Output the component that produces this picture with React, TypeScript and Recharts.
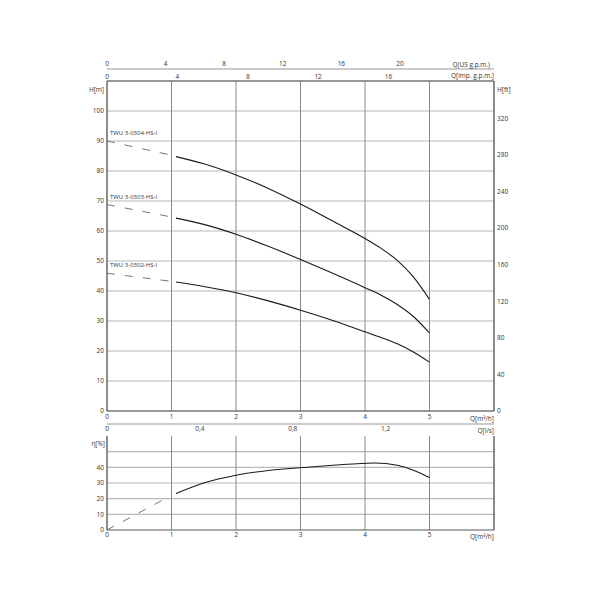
import React from 'react';
import { LineChart, Line, XAxis, YAxis, CartesianGrid, LabelList } from 'recharts';

// unit conversions (from m3/h and m)
const M3H_TO_USGPM = 4.403;
const M3H_TO_IMPGPM = 3.666;
const M3H_TO_LS = 1 / 3.6;
const M_TO_FT = 3.2808;

const flowTicks = [0, 1, 2, 3, 4, 5];
const usGpmTicks = [0, 4, 8, 12, 16, 20];
const impGpmTicks = [0, 4, 8, 12, 16];
const lsTicks = [0, 0.4, 0.8, 1.2];
const headTicks = [0, 10, 20, 30, 40, 50, 60, 70, 80, 90, 100];
const ftTicks = [0, 40, 80, 120, 160, 200, 240, 280, 320];
const effTicks = [0, 10, 20, 30, 40];
const effGridLines = [10, 20, 30, 40, 50];

const pumpNames = ['TWU 3-0304-HS-I', 'TWU 3-0303-HS-I', 'TWU 3-0302-HS-I'];

// measured part of the curves
const flowSolid = [1.07, 1.5, 2, 2.5, 3, 3.5, 4, 4.25, 4.5, 4.75, 5];
const head0304 = [84.8, 82.4, 78.7, 74.2, 69, 63.3, 57.5, 54.2, 50.2, 44.7, 37.2];
const head0303 = [64.3, 62.2, 58.9, 54.9, 50.5, 45.9, 41.1, 38.6, 35.5, 31.5, 26.0];
const head0302 = [43.0, 41.5, 39.4, 36.7, 33.6, 30.2, 26.4, 24.5, 22.4, 19.7, 16.3];

// extrapolated (dashed) part
const flowDashed = [0, 0.97];
const dash0304 = [90, 85.4];
const dash0303 = [68.8, 64.8];
const dash0302 = [45.9, 43.3];

const flowEff = [1.07, 1.5, 2, 2.5, 3, 3.5, 4.15, 4.5, 4.75, 5];
const efficiency = [23.3, 30, 35, 38, 39.7, 41.3, 42.8, 41.3, 38.2, 33.5];
const flowEffDashed = [0, 0.92];
const effDashed = [0, 20.4];

const pts = (qs: number[], vs: number[]) => qs.map((q, i) => ({ q, v: vs[i] }));

const FONT = "'Open Sans', sans-serif";
const tickStyle = { fontSize: 6.5, fill: '#333' };
const frame = { stroke: '#555', strokeWidth: 1 };
const thinAxis = { stroke: '#999', strokeWidth: 1 };

const title = (text: string, anchor: 'start' | 'end', fx: number, dx: number, dy: number) =>
  (props: any) => {
    const vb = props.viewBox || {};
    return (
      <text x={vb.x + vb.width * fx + dx} y={vb.y + dy} textAnchor={anchor} dominantBaseline="central"
        fontSize={6.5} fill="#333">{text}</text>
    );
  };

const nameLabel = (name: string) => (props: any) =>
  props.index === 0 ? (
    <text x={props.x + 3} y={props.y - 8} fontSize={6} fill="#333" dominantBaseline="central">{name}</text>
  ) : null;

const solidStyle = { stroke: '#1a1a1a', strokeWidth: 1.1 };
const dashStyle = { stroke: '#666', strokeWidth: 0.9, strokeDasharray: '8 10' };

// invisible series so the secondary flow axes get a domain
const carrier = (id: string) => (
  <Line xAxisId={id} data={pts(flowDashed, dash0304)} dataKey="v" stroke="none" dot={false} activeDot={false}
    isAnimationActive={false} legendType="none" />
);

export default function App() {
  const headSolid = [head0304, head0303, head0302];
  const headDash = [dash0304, dash0303, dash0302];

  return (
    <div style={{ position: 'absolute', left: 0, top: 0, width: 600, height: 600, background: '#fff', fontFamily: FONT }}>
      <div style={{ position: 'absolute', left: 0, top: 0 }}>
        <LineChart width={600} height={440} margin={{ top: 55, right: 66, bottom: 4, left: 70 }}>
          <CartesianGrid vertical={false} stroke="#b8b8b8" strokeWidth={1.2} />
          <CartesianGrid horizontal={false} stroke="#8a8a8a" strokeWidth={1} />
          <XAxis type="number" dataKey="q" domain={[0, 6]} allowDataOverflow ticks={flowTicks} interval={0}
            orientation="bottom" height={13} tickSize={0} tickMargin={3} tick={tickStyle} axisLine={frame}
            label={title('Q[m³/h]', 'end', 1, 0, 7)} />
          <XAxis xAxisId="ls" type="number" dataKey="q" domain={[0, 6]} allowDataOverflow
            ticks={lsTicks.map(v => v / M3H_TO_LS)} interval={0}
            tickFormatter={(v: number) => (Math.round(v * M3H_TO_LS * 10) / 10).toString().replace('.', ',')}
            orientation="bottom" height={12} tickSize={0} tickMargin={2} tick={tickStyle} axisLine={thinAxis}
            label={title('Q[l/s]', 'end', 1, 0, 6)} />
          <XAxis xAxisId="imp" type="number" dataKey="q" domain={[0, 6]} allowDataOverflow
            ticks={impGpmTicks.map(v => v / M3H_TO_IMPGPM)} interval={0}
            tickFormatter={(v: number) => String(Math.round(v * M3H_TO_IMPGPM))}
            orientation="top" height={12} tickSize={0} tickMargin={2} tick={tickStyle} axisLine={frame}
            label={title('Q[imp. g.p.m.]', 'end', 1, 0, 6.7)} />
          <XAxis xAxisId="us" type="number" dataKey="q" domain={[0, 6]} allowDataOverflow
            ticks={usGpmTicks.map(v => v / M3H_TO_USGPM)} interval={0}
            tickFormatter={(v: number) => String(Math.round(v * M3H_TO_USGPM))}
            orientation="top" height={14} tickSize={0} tickMargin={3} tick={tickStyle} axisLine={thinAxis}
            label={title('Q(US g.p.m.)', 'end', 1, -4, 9)} />
          <YAxis type="number" domain={[0, 110]} allowDataOverflow ticks={headTicks} interval={0} width={37}
            tickSize={0} tickMargin={3} tick={tickStyle} axisLine={frame}
            label={title('H[m]', 'end', 1, -3, 8)} />
          <YAxis yAxisId="ft" orientation="right" type="number" domain={[0, 110]} allowDataOverflow
            ticks={ftTicks.map(v => v / M_TO_FT)} interval={0} width={40}
            tickFormatter={(v: number) => String(Math.round(v * M_TO_FT))}
            tickSize={0} tickMargin={3} tick={tickStyle} axisLine={frame}
            label={title('H[ft]', 'start', 0, 3, 8)} />
          {carrier('ls')}
          {carrier('imp')}
          {carrier('us')}
          <Line yAxisId="ft" data={pts(flowDashed, dash0304)} dataKey="v" stroke="none" dot={false}
            activeDot={false} isAnimationActive={false} legendType="none" />
          {headDash.map((d, i) => (
            <Line key={'d' + i} data={pts(flowDashed, d)} dataKey="v" type="linear" dot={false} activeDot={false}
              isAnimationActive={false} {...dashStyle}>
              <LabelList dataKey="v" content={nameLabel(pumpNames[i])} />
            </Line>
          ))}
          {headSolid.map((h, i) => (
            <Line key={'s' + i} data={pts(flowSolid, h)} dataKey="v" type="monotone" dot={false} activeDot={false}
              isAnimationActive={false} {...solidStyle} />
          ))}
        </LineChart>
      </div>
      <div style={{ position: 'absolute', left: 0, top: 430 }}>
        <LineChart width={600} height={120} margin={{ top: 6, right: 66, bottom: 8, left: 70 }}>
          <CartesianGrid vertical={false} horizontalValues={effGridLines} stroke="#b8b8b8" strokeWidth={1.2} />
          <CartesianGrid horizontal={false} stroke="#8a8a8a" strokeWidth={1} />
          <XAxis type="number" dataKey="q" domain={[0, 6]} allowDataOverflow ticks={flowTicks} interval={0}
            height={12} tickSize={0} tickMargin={2} tick={tickStyle} axisLine={frame}
            label={title('Q[m³/h]', 'end', 1, 0, 6)} />
          <XAxis xAxisId="frame" type="number" dataKey="q" domain={[0, 6]} allowDataOverflow orientation="top"
            height={0} tick={false} tickLine={false} axisLine={frame} />
          <YAxis type="number" domain={[0, 60]} allowDataOverflow ticks={effTicks} interval={0} width={37}
            tickSize={0} tickMargin={3} tick={tickStyle} axisLine={frame}
            label={title('η[%]', 'end', 1, -2, 7)} />
          <YAxis yAxisId="r" orientation="right" type="number" domain={[0, 60]} allowDataOverflow width={40}
            tick={false} tickLine={false} axisLine={frame} />
          <Line xAxisId="frame" yAxisId="r" data={pts(flowEffDashed, effDashed)} dataKey="v" stroke="none"
            dot={false} activeDot={false} isAnimationActive={false} legendType="none" />
          <Line data={pts(flowEffDashed, effDashed)} dataKey="v" type="linear" dot={false} activeDot={false}
            isAnimationActive={false} {...dashStyle} />
          <Line data={pts(flowEff, efficiency)} dataKey="v" type="monotone" dot={false} activeDot={false}
            isAnimationActive={false} {...solidStyle} />
        </LineChart>
      </div>
    </div>
  );
}
